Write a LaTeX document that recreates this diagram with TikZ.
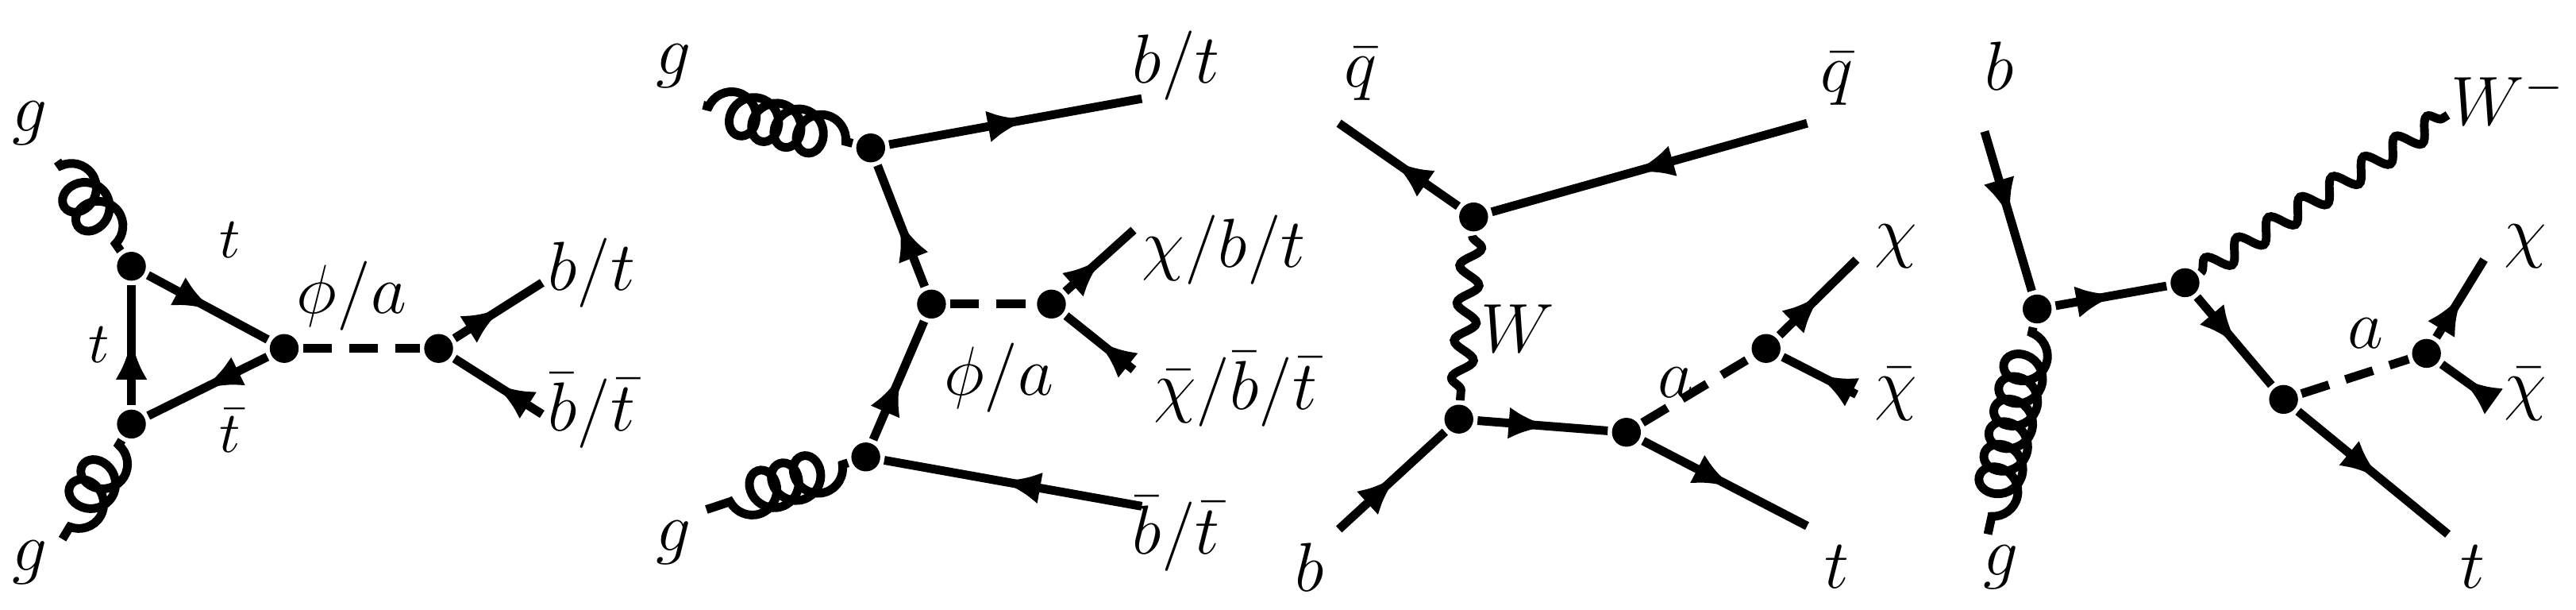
\documentclass[tikz,border=0pt]{standalone}
\usetikzlibrary{decorations.pathmorphing,decorations.markings,arrows.meta}
\begin{document}
\begin{tikzpicture}[x=0.01cm,y=-0.01cm, line width=1.5pt,
	vtx/.style = {circle, fill, inner sep=0pt, minimum size=5pt},
	lbl/.style = {font=\large},
	fermion/.style = {postaction={decorate}, decoration={markings, mark=at position .55 with {\arrow{Latex[length=7pt,width=5.5pt]}}}},
	scalar/.style = {dashed, dash pattern=on 5pt off 3pt},
	gluon/.style = {decorate, decoration={coil, amplitude=3.6pt, segment length=4pt, aspect=0.9, pre length=1pt, post length=1pt}},
	photon/.style = {decorate, decoration={snake, amplitude=1.8pt, segment length=6.5pt}}]
	\useasboundingbox (0,0) rectangle (1568,371);
	%% Diagram 1
	\node[vtx] (A) at (80,162) {};
	\node[vtx] (B) at (80,258) {};
	\node[vtx] (C) at (173,212) {};
	\node[vtx] (D) at (267,212) {};
	\coordinate (g1) at (35,98);
	\coordinate (g2) at (38,328);
	\coordinate (f1) at (330,172);
	\coordinate (f2) at (330,252);
	\draw[gluon] (g1) -- (A);
	\draw[gluon] (B) -- (g2);
	\draw[fermion] (A) -- (C);
	\draw[fermion] (C) -- (B);
	\draw[fermion] (B) -- (A);
	\draw[scalar] (C) -- (D);
	\draw[fermion] (D) -- (f1);
	\draw[fermion] (f2) -- (D);
	\node[lbl] (l1) at (18,75) {$g$};
	\node[lbl] (l2) at (18,342) {$g$};
	\node (l3) at (140,146) {$t$};
	\node (l4) at (140,262) {$\bar t$};
	\node (l5) at (60,210) {$t$};
	\node[lbl] (l6) at (214,180) {$\phi/a$};
	\node[lbl] (l7) at (360,166) {$b/t$};
	\node[lbl] (l8) at (360,250) {$\bar b/\bar t$};
	%% Diagram 2
	\node[vtx] (E) at (530,90) {};
	\node[vtx] (F) at (567,185) {};
	\node[vtx] (G) at (527,278) {};
	\node[vtx] (H) at (640,185) {};
	\coordinate (g3) at (428,64);
	\coordinate (g4) at (430,310);
	\coordinate (f3) at (695,60);
	\coordinate (f4) at (695,308);
	\coordinate (f5) at (690,140);
	\coordinate (f6) at (690,225);
	\draw[gluon] (g3) -- (E);
	\draw[gluon] (G) -- (g4);
	\draw[fermion] (E) -- (f3);
	\draw[fermion] (F) -- (E);
	\draw[fermion] (G) -- (F);
	\draw[fermion] (f4) -- (G);
	\draw[scalar] (F) -- (H);
	\draw[fermion] (H) -- (f5);
	\draw[fermion] (f6) -- (H);
	\node[lbl] (l9) at (410,40) {$g$};
	\node[lbl] (l10) at (410,330) {$g$};
	\node[lbl] (l11) at (716,40) {$b/t$};
	\node[lbl] (l12) at (716,325) {$\bar b/\bar t$};
	\node[lbl] (l13) at (608,230) {$\phi/a$};
	\node[lbl] (l14) at (745,152) {$\chi/b/t$};
	\node[lbl] (l15) at (752,237) {$\bar\chi/\bar b/\bar t$};
	%% Diagram 3
	\node[vtx] (I) at (897,132) {};
	\node[vtx] (J) at (888,255) {};
	\node[vtx] (K) at (990,263) {};
	\node[vtx] (L) at (1075,212) {};
	\coordinate (f7) at (815,75);
	\coordinate (f8) at (1100,75);
	\coordinate (f9) at (815,322);
	\coordinate (f10) at (1130,158);
	\coordinate (f11) at (1130,240);
	\coordinate (f12) at (1100,320);
	\draw[fermion] (I) -- (f7);
	\draw[fermion] (f8) -- (I);
	\draw[photon] (I) -- (J);
	\draw[fermion] (f9) -- (J);
	\draw[fermion] (J) -- (K);
	\draw[scalar] (K) -- (L);
	\draw[fermion] (L) -- (f10);
	\draw[fermion] (f11) -- (L);
	\draw[fermion] (K) -- (f12);
	\node[lbl] (l16) at (828,45) {$\bar q$};
	\node[lbl] (l17) at (1118,48) {$\bar q$};
	\node[lbl] (l18) at (924,200) {$W$};
	\node[lbl] (l19) at (797,345) {$b$};
	\node[lbl] (l20) at (1020,233) {$a$};
	\node[lbl] (l21) at (1154,150) {$\chi$};
	\node[lbl] (l22) at (1154,240) {$\bar\chi$};
	\node[lbl] (l23) at (1118,345) {$t$};
	%% Diagram 4
	\node[vtx] (M) at (1240,188) {};
	\node[vtx] (N) at (1330,172) {};
	\node[vtx] (O) at (1390,243) {};
	\node[vtx] (P) at (1477,215) {};
	\coordinate (f13) at (1208,80);
	\coordinate (g5) at (1210,325);
	\coordinate (w1) at (1490,70);
	\coordinate (f14) at (1512,158);
	\coordinate (f15) at (1512,240);
	\coordinate (f16) at (1490,325);
	\draw[fermion] (f13) -- (M);
	\draw[gluon] (M) -- (g5);
	\draw[fermion] (M) -- (N);
	\draw[photon] (N) -- (w1);
	\draw[fermion] (N) -- (O);
	\draw[scalar] (O) -- (P);
	\draw[fermion] (P) -- (f14);
	\draw[fermion] (f15) -- (P);
	\draw[fermion] (O) -- (f16);
	\node[lbl] (l24) at (1217,40) {$b$};
	\node[lbl] (l25) at (1218,345) {$g$};
	\node[lbl] (l26) at (1527,60) {$W^-$};
	\node[lbl] (l27) at (1440,203) {$a$};
	\node[lbl] (l28) at (1537,150) {$\chi$};
	\node[lbl] (l29) at (1537,240) {$\bar\chi$};
	\node[lbl] (l30) at (1505,345) {$t$};
\end{tikzpicture}
\end{document}
